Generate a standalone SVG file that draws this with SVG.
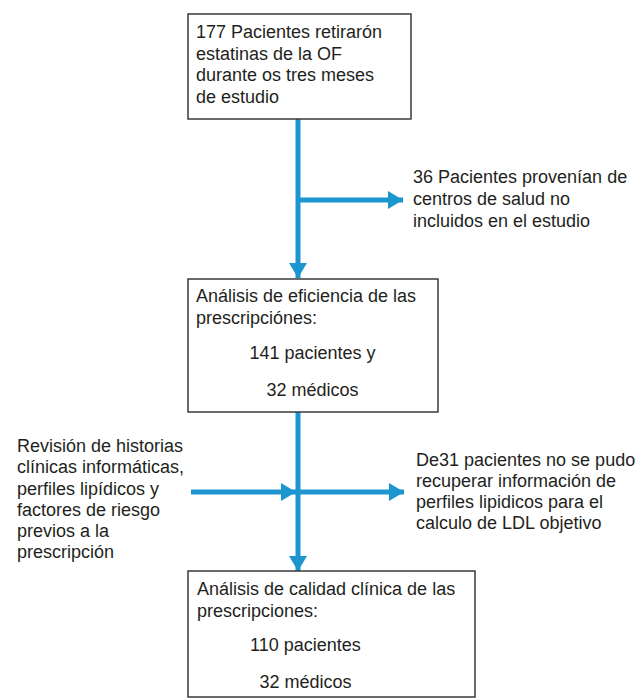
<svg xmlns="http://www.w3.org/2000/svg" width="644" height="698" viewBox="0 0 644 698">
<style>
.box{fill:#fff;stroke:#3a3a3a;stroke-width:1.5}
.t{font-family:"Liberation Sans",Arial,sans-serif;font-size:18px;fill:#231f20}
.c{text-anchor:middle}
.ln{stroke:#1d95cf;stroke-width:5;fill:none}
</style>
<defs>
<marker id="ah" markerUnits="userSpaceOnUse" markerWidth="16" markerHeight="18" refX="15" refY="9" orient="auto">
<path d="M0,0 L15,9 L0,18 z" fill="#1d95cf"/>
</marker>
</defs>
<rect width="644" height="698" fill="#fff"/>
<g id="connectors">
<line class="ln" x1="298" y1="119" x2="298" y2="278" marker-end="url(#ah)"/>
<line class="ln" x1="298" y1="200" x2="403" y2="200" marker-end="url(#ah)"/>
<line class="ln" x1="298" y1="412" x2="298" y2="571" marker-end="url(#ah)"/>
<line class="ln" x1="191" y1="492" x2="296" y2="492" marker-end="url(#ah)"/>
<line class="ln" x1="298" y1="492" x2="404" y2="492" marker-end="url(#ah)"/>
</g>
<g id="n1">
<rect class="box" x="188" y="14" width="223" height="105"/>
<text class="t" x="196" y="38">177 Pacientes retirarón</text>
<text class="t" x="196" y="59.5">estatinas de la OF</text>
<text class="t" x="196" y="81">durante os tres meses</text>
<text class="t" x="196" y="102.5">de estudio</text>
</g>
<g id="n2">
<text class="t" x="413" y="183">36 Pacientes provenían de</text>
<text class="t" x="413" y="205">centros de salud no</text>
<text class="t" x="413" y="227">incluidos en el estudio</text>
</g>
<g id="n3">
<rect class="box" x="188" y="279" width="250" height="133"/>
<text class="t" x="196" y="302">Análisis de eficiencia de las</text>
<text class="t" x="196" y="324">prescripciónes:</text>
<text class="t c" x="312.5" y="359">141 pacientes y</text>
<text class="t c" x="312.5" y="396">32 médicos</text>
</g>
<g id="n4">
<text class="t" x="17" y="452">Revisión de historias</text>
<text class="t" x="17" y="473">clínicas informáticas,</text>
<text class="t" x="17" y="494.5">perfiles lipídicos y</text>
<text class="t" x="17" y="516">factores de riesgo</text>
<text class="t" x="17" y="537">previos a la</text>
<text class="t" x="17" y="558">prescripción</text>
</g>
<g id="n5">
<text class="t" x="416" y="466">De31 pacientes no se pudo</text>
<text class="t" x="416" y="487">recuperar información de</text>
<text class="t" x="416" y="508">perfiles lipidicos para el</text>
<text class="t" x="416" y="529">calculo de LDL objetivo</text>
</g>
<g id="n6">
<rect class="box" x="188" y="571" width="287" height="126"/>
<text class="t" x="197" y="595">Análisis de calidad clínica de las</text>
<text class="t" x="197" y="617">prescripciones:</text>
<text class="t c" x="305.5" y="651">110 pacientes</text>
<text class="t c" x="305.5" y="688">32 médicos</text>
</g>
</svg>
